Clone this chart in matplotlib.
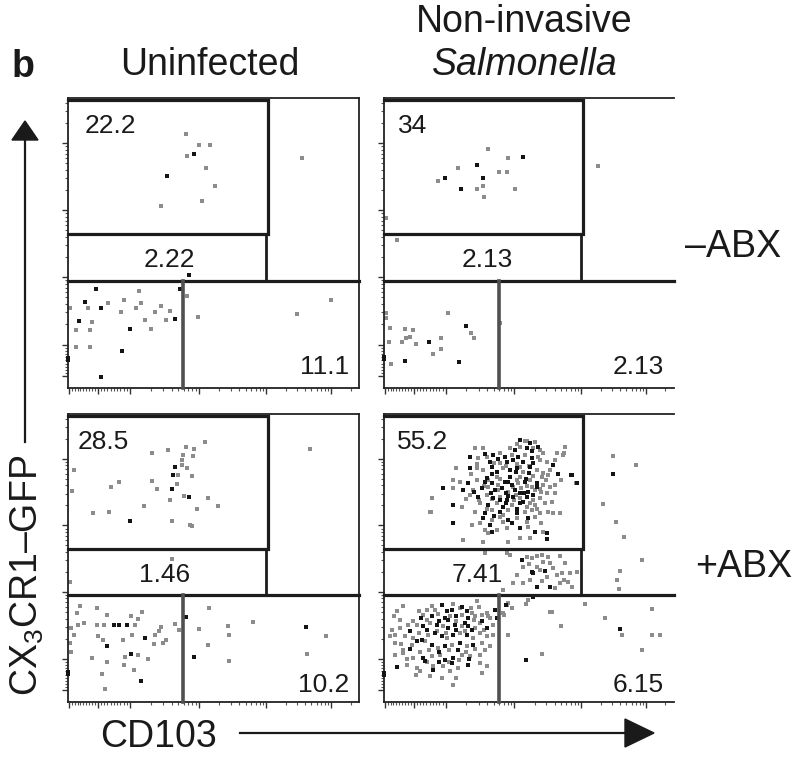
import numpy as np
import matplotlib
matplotlib.use("Agg")
import matplotlib.pyplot as plt
from matplotlib.patches import Polygon
from matplotlib.lines import Line2D

plt.rcParams["font.family"] = ["Liberation Sans", "DejaVu Sans"]
plt.rcParams["mathtext.fontset"] = "custom"
plt.rcParams["mathtext.rm"] = "Liberation Sans"
plt.rcParams["mathtext.it"] = "Liberation Sans:italic"

# ---- data: events as (CD103 channel, CX3CR1-GFP channel, tone 1=dark 0=light) ----
uninfected_minus_abx = [
    (406, 875, 0), (451, 838, 0), (488, 838, 0), (410, 800, 0), (433, 806, 1),
    (474, 760, 0), (342, 731, 1), (506, 697, 0), (461, 644, 0), (320, 629, 0),
    (805, 792, 0), (415, 390, 1),
    (96, 343, 1), (246, 334, 0), (58, 297, 1), (71, 277, 0), (113, 277, 1),
    (139, 292, 0), (194, 305, 0), (251, 294, 0), (234, 277, 0), (322, 283, 0),
    (182, 261, 0), (299, 261, 0), (351, 266, 0), (385, 343, 1), (40, 231, 1),
    (85, 228, 0), (267, 234, 0), (336, 234, 0), (369, 239, 1), (214, 203, 1),
    (285, 205, 0), (27, 199, 0), (77, 199, 0), (7, 275, 0), (27, 143, 0),
    (77, 143, 0), (187, 129, 1), (113, 37, 1), (0, 104, 1), (0, 97, 1),
    (410, 316, 0), (448, 245, 0), (787, 254, 0), (905, 304, 0),
]

salmonella_minus_abx = [
    (359, 824, 0), (429, 792, 0), (480, 798, 1), (255, 760, 0), (323, 769, 1),
    (397, 746, 0), (424, 746, 0), (187, 714, 0), (213, 723, 1), (343, 723, 1),
    (343, 697, 0), (268, 686, 1), (323, 686, 0), (452, 686, 0), (346, 659, 0),
    (8, 586, 0), (739, 765, 0), (46, 509, 0),
    (9, 260, 0), (9, 243, 0), (222, 260, 0), (22, 206, 0), (75, 203, 0),
    (102, 199, 0), (89, 176, 0), (77, 173, 0), (18, 157, 0), (63, 157, 0),
    (113, 153, 0), (157, 157, 1), (199, 171, 0), (199, 135, 0), (170, 117, 0),
    (285, 214, 1), (301, 190, 0), (310, 171, 0), (75, 92, 1), (26, 83, 0),
    (259, 90, 1), (0, 99, 1), (0, 106, 1),
    (402, 225, 0),
]

uninfected_plus_abx = [
    (471, 902, 0), (405, 884, 0), (345, 875, 0), (291, 866, 0), (434, 879, 0),
    (397, 858, 0), (429, 855, 0), (394, 840, 0), (370, 815, 1), (391, 823, 0),
    (410, 812, 0), (362, 788, 1), (379, 788, 0), (425, 784, 0), (23, 807, 0),
    (177, 765, 0), (150, 746, 0), (290, 768, 0), (376, 758, 0), (357, 740, 1),
    (305, 740, 0), (16, 732, 0), (398, 717, 0), (417, 713, 1), (480, 708, 0),
    (351, 703, 0), (517, 680, 0), (263, 680, 0), (443, 671, 0), (143, 661, 0),
    (88, 657, 0), (214, 630, 1), (357, 629, 0), (419, 616, 0), (427, 610, 0),
    (359, 497, 0), (8, 416, 0), (833, 880, 0),
    (42, 332, 0), (102, 328, 0), (256, 314, 0), (31, 310, 0), (136, 302, 0),
    (217, 297, 0), (57, 275, 0), (34, 268, 0), (99, 268, 0), (126, 268, 0),
    (160, 268, 1), (177, 269, 1), (202, 268, 1), (231, 268, 0), (240, 289, 0),
    (322, 262, 0), (370, 272, 0), (11, 256, 0), (23, 231, 0), (103, 228, 0),
    (122, 214, 0), (134, 194, 1), (191, 217, 0), (222, 231, 0), (265, 222, 1),
    (299, 231, 0), (314, 245, 0), (339, 216, 0), (297, 202, 0), (326, 206, 0),
    (382, 249, 0), (9, 206, 0), (11, 173, 0), (85, 153, 0), (134, 139, 0),
    (195, 155, 0), (217, 168, 1), (242, 164, 0), (277, 148, 0), (194, 129, 0),
    (117, 98, 0), (229, 110, 0), (251, 74, 1), (128, 46, 0), (0, 97, 1),
    (0, 104, 1),
    (406, 295, 1), (485, 327, 0), (549, 265, 0), (637, 277, 0), (451, 254, 0),
    (553, 231, 0), (818, 259, 1), (885, 228, 0), (480, 199, 0), (434, 156, 1),
    (553, 142, 0), (822, 168, 0),
]

salmonella_plus_abx = [
    # CX3CR1-high population
    (470, 910, 1), (487, 906, 0), (504, 898, 1), (521, 904, 0), (470, 887, 0),
    (493, 881, 1), (516, 881, 0), (533, 887, 1), (435, 881, 0), (452, 875, 1),
    (625, 887, 0), (315, 881, 0), (343, 881, 0),
    (596, 863, 0), (619, 858, 0), (297, 852, 1), (326, 846, 0), (355, 852, 0),
    (378, 858, 1), (401, 863, 0), (418, 852, 1), (441, 858, 0), (464, 852, 1),
    (487, 858, 0), (510, 846, 1), (533, 852, 0), (550, 863, 0), (562, 835, 0),
    (585, 823, 1), (424, 835, 1), (401, 829, 0), (366, 835, 1),
    (251, 811, 0), (297, 811, 1), (320, 811, 0), (343, 806, 0), (372, 817, 1),
    (389, 800, 1), (412, 811, 0), (435, 806, 1), (458, 811, 1), (481, 800, 0),
    (504, 817, 1), (527, 806, 0), (550, 794, 0), (567, 788, 0), (648, 788, 1),
    (435, 782, 1), (470, 782, 0), (389, 782, 0), (355, 777, 1),
    (240, 771, 0), (263, 765, 0), (292, 759, 1), (320, 771, 0), (349, 765, 1),
    (372, 759, 1), (395, 754, 0), (418, 765, 1), (441, 754, 1), (464, 759, 0),
    (487, 765, 1), (504, 771, 0), (527, 748, 1), (550, 754, 0), (573, 748, 0),
    (590, 754, 0), (665, 759, 1), (240, 742, 0), (274, 736, 1), (309, 736, 0),
    (338, 742, 1), (361, 748, 0), (384, 736, 1), (407, 742, 1), (430, 730, 0),
    (452, 736, 1), (475, 742, 0), (498, 730, 1), (521, 736, 0), (544, 730, 0),
    (562, 725, 0), (205, 744, 1), (165, 707, 0),
    (297, 719, 0), (326, 713, 1), (355, 719, 0), (378, 707, 1), (401, 713, 0),
    (424, 701, 1), (447, 713, 1), (470, 707, 0), (493, 713, 1), (516, 701, 0),
    (539, 707, 0), (579, 696, 0), (590, 725, 0), (332, 690, 0), (361, 684, 1),
    (389, 690, 0), (412, 678, 1), (441, 684, 0), (470, 690, 1), (493, 678, 0),
    (521, 684, 0), (556, 690, 0), (240, 684, 1), (269, 678, 0), (159, 661, 0),
    (315, 661, 0), (349, 655, 1), (372, 667, 0), (401, 661, 1), (430, 667, 0),
    (458, 655, 1), (487, 661, 0), (510, 667, 0), (539, 655, 0), (567, 661, 0),
    (585, 655, 0), (608, 655, 0), (343, 638, 1), (372, 632, 0), (401, 644, 0),
    (430, 632, 1), (458, 638, 0), (498, 638, 1), (521, 644, 0), (240, 623, 1),
    (303, 615, 0), (332, 620, 0), (366, 615, 1), (412, 626, 0), (441, 620, 1),
    (493, 626, 0), (544, 620, 0),
    (349, 597, 0), (372, 592, 1), (389, 597, 0), (424, 603, 0), (470, 603, 1),
    (498, 609, 0), (521, 592, 1), (550, 592, 0), (361, 586, 0), (562, 586, 1),
    (274, 563, 0), (343, 557, 0), (430, 557, 0), (470, 568, 0), (504, 568, 0),
    (562, 566, 1), (646, 789, 1), (663, 760, 0), (621, 864, 0), (164, 659, 0),
    (380, 830, 0), (395, 845, 1), (420, 820, 0), (445, 840, 1), (460, 825, 0),
    (480, 835, 1), (500, 820, 0), (515, 830, 1), (540, 840, 0), (455, 800, 1),
    (470, 815, 0), (500, 795, 1), (515, 785, 0), (490, 775, 1), (460, 770, 0),
    (430, 765, 1), (400, 775, 0), (375, 790, 1), (360, 770, 0), (345, 750, 0),
    (370, 725, 1), (395, 735, 0), (420, 725, 1), (445, 745, 0), (470, 725, 1),
    (495, 750, 0), (515, 720, 1), (540, 740, 0), (560, 770, 0), (575, 805, 0),
    (590, 840, 0), (600, 790, 1), (610, 770, 0), (420, 690, 1), (450, 700, 0),
    (480, 695, 1), (505, 690, 0), (530, 670, 0), (460, 670, 1), (410, 650, 0),
    (380, 645, 1), (355, 670, 0), (330, 700, 0), (310, 730, 1), (285, 705, 0),
    (300, 790, 0), (320, 825, 0), (350, 860, 1), (460, 895, 0), (510, 870, 1),
    (495, 905, 0), (540, 875, 0), (400, 700, 1), (375, 705, 0), (430, 715, 1),
    (455, 720, 0), (485, 725, 1), (510, 745, 0), (530, 760, 1), (545, 780, 0),
    # intermediate population
    (476, 493, 1), (493, 505, 0), (510, 499, 0), (527, 507, 0), (545, 510, 0),
    (568, 505, 0), (573, 482, 0), (550, 487, 0), (481, 470, 0), (510, 453, 1),
    (516, 447, 1), (447, 412, 0), (481, 412, 0), (527, 400, 1), (573, 400, 1),
    (562, 435, 0), (596, 441, 0), (614, 447, 0), (642, 447, 0), (665, 453, 0),
    (608, 412, 0), (637, 418, 0), (591, 395, 0), (413, 389, 0), (435, 510, 0),
    (539, 458, 0), (625, 482, 0), (608, 507, 0), (349, 516, 0), (424, 516, 0),
    (500, 480, 0), (530, 470, 0), (555, 455, 1), (585, 465, 0), (460, 440, 0),
    (505, 425, 0), (545, 420, 0), (620, 425, 0), (650, 400, 0),
    (499, 354, 0), (516, 366, 1), (573, 314, 0), (424, 337, 0), (430, 343, 0),
    # CD103-high, GFP-high corner
    (792, 853, 0), (792, 792, 1), (871, 824, 0), (755, 688, 0), (802, 626, 0),
    (830, 574, 0), (891, 493, 0), (816, 456, 0), (805, 423, 0), (810, 391, 0),
    # CD103-positive, GFP-negative
    (420, 336, 1), (443, 325, 0), (489, 342, 0), (580, 313, 0), (695, 339, 0),
    (613, 265, 0), (764, 290, 0), (925, 323, 0), (816, 253, 1), (822, 232, 0),
    (925, 232, 0), (954, 232, 0), (889, 180, 0), (546, 168, 0), (489, 147, 1),
    (429, 234, 0), (414, 302, 0),
    # double-negative population
    (68, 332, 0), (165, 332, 0), (200, 338, 1), (177, 321, 0), (217, 315, 1),
    (234, 321, 1), (263, 326, 0), (286, 315, 1), (303, 309, 0), (320, 350, 0),
    (355, 309, 0), (384, 321, 1), (45, 315, 0),
    (56, 286, 0), (102, 280, 0), (137, 303, 0), (165, 297, 1), (188, 306, 0),
    (211, 292, 1), (229, 297, 0), (251, 297, 1), (269, 303, 0), (292, 292, 1),
    (315, 297, 0), (338, 303, 0), (366, 292, 0), (389, 292, 1), (412, 309, 0),
    (27, 251, 0), (56, 257, 0), (85, 269, 0), (114, 269, 0), (137, 263, 1),
    (160, 274, 0), (183, 269, 1), (206, 263, 0), (223, 257, 1), (246, 269, 1),
    (269, 263, 0), (292, 263, 1), (315, 257, 0), (332, 274, 0), (355, 257, 1),
    (378, 269, 0),
    (39, 234, 0), (73, 228, 0), (102, 222, 0), (131, 216, 1), (154, 234, 0),
    (177, 240, 1), (200, 228, 1), (217, 222, 0), (240, 234, 1), (263, 240, 0),
    (286, 234, 1), (309, 222, 0), (332, 240, 0), (355, 228, 0), (378, 234, 0),
    (39, 205, 0), (68, 182, 0), (96, 199, 0), (114, 211, 1), (142, 211, 0),
    (165, 199, 1), (188, 187, 0), (211, 193, 1), (234, 199, 0), (263, 205, 1),
    (286, 193, 0), (309, 199, 1), (338, 205, 0), (366, 193, 0),
    (39, 164, 0), (68, 170, 0), (102, 153, 0), (137, 153, 1), (165, 159, 0),
    (194, 164, 0), (211, 147, 1), (240, 153, 1), (269, 164, 0), (297, 159, 0),
    (332, 164, 0),
    (45, 120, 1), (79, 130, 0), (114, 118, 0), (142, 141, 1), (171, 124, 0),
    (206, 124, 0), (234, 135, 1), (257, 118, 0), (292, 130, 1), (332, 135, 0),
    (355, 124, 0), (125, 107, 0), (171, 112, 1), (229, 107, 0), (338, 101, 0),
    (240, 60, 0), (0, 95, 1), (0, 102, 1),
    (130, 290, 1), (150, 285, 0), (190, 280, 1), (220, 285, 1), (250, 280, 0),
    (280, 275, 1), (310, 285, 0), (340, 280, 1), (360, 300, 0), (120, 315, 0),
    (150, 320, 0), (240, 340, 0), (270, 330, 1), (300, 325, 0), (330, 330, 0),
    (90, 245, 1), (120, 240, 0), (150, 250, 1), (185, 245, 0), (215, 240, 0),
    (250, 250, 1), (280, 245, 0), (305, 250, 1), (345, 250, 0), (60, 200, 0),
    (90, 185, 1), (125, 175, 0), (155, 180, 0), (190, 175, 1), (225, 180, 0),
    (255, 180, 1), (285, 175, 0), (315, 185, 0), (350, 180, 0), (80, 150, 0),
    (150, 140, 0), (190, 140, 1), (225, 140, 0), (260, 145, 0), (295, 150, 1),
    (110, 95, 0), (160, 90, 0), (200, 85, 0), (250, 85, 0), (35, 300, 0),
    (20, 230, 0),
]

panels = [uninfected_minus_abx, salmonella_minus_abx,
          uninfected_plus_abx, salmonella_plus_abx]

# gate frequencies (%)
pct_top = ["22.2", "34", "28.5", "55.2"]
pct_mid = ["2.22", "2.13", "1.46", "7.41"]
pct_cd103 = ["11.1", "2.13", "10.2", "6.15"]

col_titles = ["Uninfected", "Non-invasive"]
row_titles = ["\u2013ABX", "+ABX"]

# ---- figure ----
W, H = 798, 758
fig = plt.figure(figsize=(W / 100, H / 100), dpi=100)
fig.patch.set_facecolor("white")


def fx(px):
    return px / W


def fy(py):
    return 1 - py / H


boxes = [
    (67.7, 98, 291.3, 290), (383.7, 98, 290, 290),
    (67.7, 414, 291.3, 288), (383.7, 414, 290, 288),
]

# biexponential-style tick positions in display channels
x_dec = [214, 451, 681, 904]
y_dec = [150, 382, 613, 844]


def biex_ticks(zero, decs, neg=None):
    major = [zero] + list(decs)
    if neg is not None:
        major = [neg] + major
    minor = []
    step = (decs[0] - zero) / 10
    minor += [zero + k * step for k in range(1, 10)]
    if neg is not None:
        minor += [zero - k * (zero - neg) / 10 for k in range(1, 10)]
    ext = list(decs) + [decs[-1] + (decs[-1] - decs[-2])]
    for a, b in zip(ext[:-1], ext[1:]):
        minor += [a + np.log10(k) * (b - a) for k in range(2, 10)]
    minor = [m for m in minor if 0 <= m <= 1000]
    return major, minor


xmaj, xmin = biex_ticks(103, x_dec, neg=4)
ymaj, ymin = biex_ticks(40, y_dec)

top_lab_x = [58, 50, 33, 46]
mid_lab_x = [348, 356, 331, 322]
cd_lab_y = [50, 50, 36, 36]

gate_col = "#1c1c1c"
for i, (pts, (l, t, w, h)) in enumerate(zip(panels, boxes)):
    ax = fig.add_axes([fx(l), fy(t + h), w / W, h / H])
    ax.set_xlim(0, 1000)
    ax.set_ylim(0, 1000)
    arr = np.array(pts, dtype=float)
    light = arr[arr[:, 2] == 0]
    dark = arr[arr[:, 2] == 1]
    ax.scatter(light[:, 0], light[:, 1], s=7, marker="s", c="#8c8c8c",
               linewidths=0, clip_on=False, zorder=2)
    ax.scatter(dark[:, 0], dark[:, 1], s=7, marker="s", c="#141414",
               linewidths=0, clip_on=False, zorder=3)

    # gates
    ax.plot([0, 688, 688, 0], [994, 994, 530, 530], color=gate_col, lw=2.3,
            solid_joinstyle="miter", clip_on=False, zorder=4)
    ax.plot([680, 680], [530, 372], color=gate_col, lw=2.0, clip_on=False, zorder=4)
    ax.plot([0, 1000], [370, 370], color=gate_col, lw=2.3, clip_on=False, zorder=4)
    ax.plot([396, 396], [0, 370], color="#505050", lw=2.6, clip_on=False, zorder=4)

    for side, sp in ax.spines.items():
        sp.set_linewidth(1.3)
        sp.set_color("#222222")
    if i % 2 == 1:
        ax.spines["right"].set_visible(False)

    ax.set_xticks(xmaj)
    ax.set_xticks(xmin, minor=True)
    ax.set_yticks(ymaj)
    ax.set_yticks(ymin, minor=True)
    ax.tick_params(which="major", direction="out", length=4.5, width=1.0,
                   color="#333333", labelbottom=False, labelleft=False)
    ax.tick_params(which="minor", direction="out", length=2.5, width=0.8,
                   color="#555555")

    tk = dict(fontsize=19, color="#1a1a1a", va="baseline", zorder=5)
    ax.text(top_lab_x[i], 880, pct_top[i], ha="left", **tk)
    ax.text(mid_lab_x[i], 417, pct_mid[i], ha="center", **tk)
    ax.text(965, cd_lab_y[i], pct_cd103[i], ha="right", **tk)

# titles and labels
txt = dict(color="#1a1a1a", fontsize=27, va="baseline")
fig.text(fx(12), fy(77), "b", fontweight="bold", ha="left", **txt)
fig.text(fx(210), fy(75), col_titles[0], ha="center", **txt)
fig.text(fx(524), fy(32), col_titles[1], ha="center", **txt)
fig.text(fx(525), fy(75), "Salmonella", ha="center", fontstyle="italic", **txt)
fig.text(fx(685), fy(257), row_titles[0], ha="left", **txt)
fig.text(fx(695), fy(577), row_titles[1], ha="left", **txt)
fig.text(fx(100), fy(747), "CD103", ha="left", **txt)
fig.text(fx(27), fy(575), "CX$_3$CR1\u2013GFP",
         rotation=90, ha="center", va="center", color="#1a1a1a", fontsize=27)

# axis arrows
fig.add_artist(Line2D([fx(25), fx(25)], [fy(442), fy(138)], color="#1a1a1a",
                      lw=1.6, transform=fig.transFigure))
fig.add_artist(Polygon([[fx(25), fy(121)], [fx(12), fy(140)], [fx(38), fy(140)]],
                       closed=True, color="#1a1a1a", transform=fig.transFigure))
fig.add_artist(Line2D([fx(240), fx(628)], [fy(733), fy(733)], color="#1a1a1a",
                      lw=1.6, transform=fig.transFigure))
fig.add_artist(Polygon([[fx(654), fy(733)], [fx(625), fy(719)], [fx(625), fy(747)]],
                       closed=True, color="#1a1a1a", transform=fig.transFigure))

fig.savefig("out.png", dpi=100, facecolor="white")
